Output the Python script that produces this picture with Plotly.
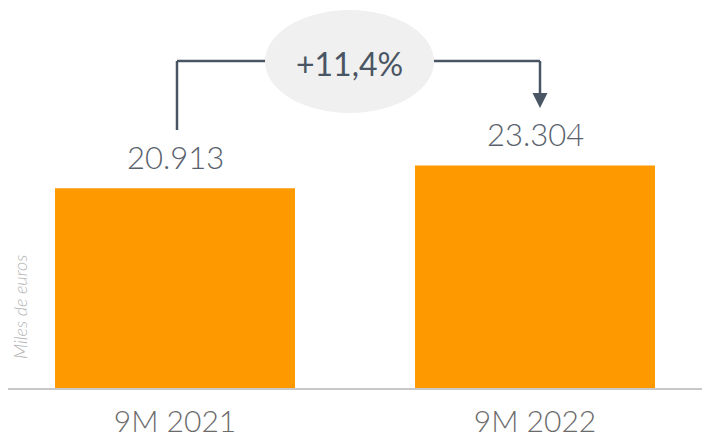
import plotly.graph_objects as go

categories = ["9M 2021", "9M 2022"]
values = [20913, 23304]
bar_color = "#FF9900"
y_title = "Miles de euros"

growth = (values[1] / values[0] - 1) * 100
growth_text = "+" + f"{growth:.1f}".replace(".", ",") + "%"

def fmt(v):
    return f"{v:,}".replace(",", ".")

# layout geometry (the page body adds an 8px offset)
OFF = 8
W, H = 710 - OFF, 439 - OFF
T, B = 0, 51
PH = H - T - B
YMAX = PH / 0.009548
X0 = 175  # screen px of first category
XR = [(OFF - X0) / 360, (OFF + W - X0) / 360]

def ypx(p):  # screen row -> data value
    return (PH - (p - OFF - T)) * YMAX / PH

def xpx(p):  # screen column -> data value
    return (p - X0) / 360

line_col = "#4a5563"
FONT = "Lato"

fig = go.Figure()
fig.add_trace(go.Bar(
    x=list(range(len(categories))), y=values, width=2 / 3,
    marker=dict(color=bar_color, line=dict(width=0)),
    hoverinfo="skip",
))

# value labels
for i, v in enumerate(values):
    fig.add_annotation(x=i, y=v, text=fmt(v), showarrow=False, yanchor="bottom",
                       yshift=10, font=dict(family=FONT, size=31, color="#59616c", weight=300))

# connector
lx = xpx(177)
rx = xpx(540)
ytop = ypx(61)
fig.add_shape(type="line", x0=lx, x1=lx, y0=ypx(130), y1=ytop,
              line=dict(color=line_col, width=2.5))
fig.add_shape(type="line", x0=lx, x1=xpx(270), y0=ytop, y1=ytop,
              line=dict(color=line_col, width=2.5))
fig.add_shape(type="line", x0=xpx(430), x1=rx, y0=ytop, y1=ytop,
              line=dict(color=line_col, width=2.5))
fig.add_shape(type="line", x0=rx, x1=rx, y0=ytop, y1=ypx(95),
              line=dict(color=line_col, width=2.5))
hw = 7.5 / 360
fig.add_shape(type="path",
              path=f"M {rx-hw},{ypx(93)} L {rx+hw},{ypx(93)} L {rx},{ypx(108)} Z",
              fillcolor=line_col, line=dict(width=0))
fig.add_shape(type="circle", x0=xpx(265), x1=xpx(434), y0=ypx(113), y1=ypx(10),
              fillcolor="#f0f0f0", line=dict(width=0))
fig.add_annotation(x=xpx(349.5), y=ypx(63), text=growth_text, showarrow=False,
                   font=dict(family=FONT, size=32, color=line_col, weight=400))

fig.add_annotation(xref="paper", yref="paper", x=(20 - OFF) / W, y=(PH - (307 - OFF)) / PH,
                   xanchor="center", yanchor="middle", borderpad=0,
                   text=y_title, textangle=-90, showarrow=False,
                   font=dict(family=FONT, size=18, color="#b4b4b4", style="italic", weight=300))

fig.update_layout(
    width=W, height=H, margin=dict(l=0, r=0, t=T, b=B, autoexpand=False),
    paper_bgcolor="white", plot_bgcolor="white", showlegend=False,
    xaxis=dict(range=XR, tickvals=list(range(len(categories))), ticktext=categories,
               showgrid=False, zeroline=False, showline=True, linecolor="#c8c8c8",
               linewidth=2, ticklabelstandoff=6, automargin=False,
               tickfont=dict(family=FONT, size=30, color="#6b6b6b", weight=300)),
    yaxis=dict(range=[0, YMAX], showgrid=False, zeroline=False, showticklabels=False,
               showline=False, automargin=False),
)
fig.write_html("out.html")
